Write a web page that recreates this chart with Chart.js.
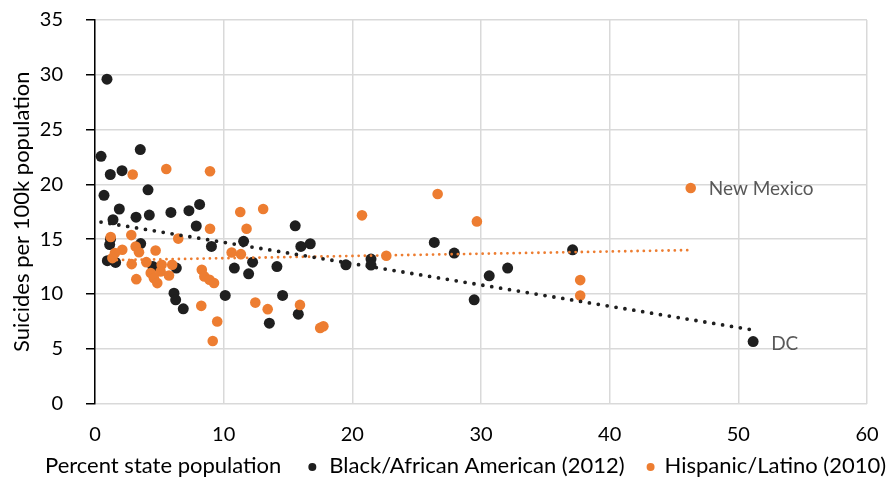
<!DOCTYPE html>
<html>
<head>
<meta charset="utf-8">
<script src="https://cdn.jsdelivr.net/npm/chart.js@4.4.1/dist/chart.umd.min.js"></script>
<style>
  html, body { margin: 0; padding: 0; background: #fff; }
</style>
</head>
<body>
<canvas id="graph" width="895" height="482"></canvas>
<script>
// Percent of state population vs suicide rate, one pair per state
const blackPct = [0.93, 0.47, 3.52, 1.19, 2.1, 0.7, 4.12, 1.89, 1.4, 3.19, 4.22, 5.9, 7.3, 8.13, 7.87,
  3.55, 9.05, 1.14, 1.2, 0.96, 1.6, 4.5, 6.32, 6.14, 6.27, 6.86, 15.56, 11.55, 16.0, 16.73, 12.25,
  10.83, 11.94, 14.14, 10.12, 14.58, 15.8, 13.55, 26.37, 27.92, 21.45, 21.45, 19.5, 30.64, 32.07,
  29.47, 37.12, 51.15];
const blackRate = [29.6, 22.56, 23.17, 20.9, 21.25, 19.0, 19.5, 17.75, 16.77, 17.0, 17.2, 17.44, 17.6, 18.17, 16.2,
  14.6, 14.33, 14.5, 15.0, 13.03, 12.87, 12.5, 12.36, 10.07, 9.46, 8.64, 16.22, 14.8, 14.33, 14.58, 12.9,
  12.36, 11.84, 12.5, 9.86, 9.86, 8.15, 7.33, 14.7, 13.73, 13.18, 12.63, 12.66, 11.65, 12.36,
  9.46, 14.03, 5.65];

const hispPct = [2.93, 5.54, 8.94, 8.94, 1.22, 2.82, 6.47, 3.16, 3.42, 4.71, 2.12, 1.55, 1.35, 2.85, 3.99,
  5.18, 6.0, 4.33, 5.1, 5.75, 4.58, 4.84, 3.21, 8.26, 9.5, 9.15, 8.3, 8.5, 8.9, 9.25, 11.29, 13.07,
  11.78, 10.62, 11.34, 12.46, 13.42, 15.93, 17.5, 17.75, 20.75, 26.63, 29.68, 22.64, 37.71, 37.71, 46.3];
const hispRate = [20.9, 21.4, 21.2, 15.95, 15.2, 15.37, 15.05, 14.33, 13.8, 13.97, 14.03, 13.73, 13.27, 12.72, 12.9,
  12.66, 12.66, 11.9, 12.05, 11.68, 11.44, 10.99, 11.35, 8.91, 7.48, 5.7, 12.2, 11.6, 11.3, 11.0, 17.48, 17.75,
  15.95, 13.78, 13.63, 9.21, 8.61, 9.0, 6.9, 7.05, 17.17, 19.12, 16.62, 13.48, 11.26, 9.86, 19.67];

// linear trend end points
const blackTrendX = [0.47, 51.1];
const blackTrendY = [16.56, 6.72];
const hispTrendX = [1.22, 46.3];
const hispTrendY = [13.08, 14.0];

const xTicks = [0, 10, 20, 30, 40, 50, 60];
const yTicks = [0, 5, 10, 15, 20, 25, 30, 35];

const BLACK = "#1f1f1f";
const ORANGE = "#ed7d31";
const FONT = "Lato";
const TICK_SIZE = 20;
const TITLE_SIZE = 22;

Chart.defaults.font.family = FONT;
Chart.defaults.font.size = TICK_SIZE;

const pairs = (xs, ys) => xs.map((v, i) => ({ x: v, y: ys[i] }));

// state names next to the two outliers, plus the bottom row (axis title + legend)
const annotations = {
  id: "annotations",
  afterDatasetsDraw(chart) {
    const { ctx, scales: { x, y } } = chart;
    ctx.save();
    ctx.font = "19px " + FONT;
    ctx.fillStyle = "#595959";
    ctx.textBaseline = "middle";
    const nm = hispPct.length - 1;
    ctx.fillText("New Mexico", x.getPixelForValue(hispPct[nm]) + 18, y.getPixelForValue(hispRate[nm]) + 1);
    const dc = blackPct.length - 1;
    ctx.fillText("DC", x.getPixelForValue(blackPct[dc]) + 18, y.getPixelForValue(blackRate[dc]) + 2);

    const rowY = 466;
    ctx.font = TITLE_SIZE + "px " + FONT;
    ctx.fillStyle = "#000";
    let cx = 45;
    ctx.fillText("Percent state population", cx, rowY);
    cx += ctx.measureText("Percent state population").width;

    const items = [[BLACK, "Black/African American (2012)"], [ORANGE, "Hispanic/Latino (2010)"]];
    items.forEach(([col, text], i) => {
      cx += i === 0 ? 31 : 26;
      ctx.fillStyle = col;
      ctx.beginPath();
      ctx.arc(cx, rowY + 1, 4, 0, Math.PI * 2);
      ctx.fill();
      cx += i === 0 ? 17 : 14;
      ctx.fillStyle = "#000";
      ctx.fillText(text, cx, rowY);
      cx += ctx.measureText(text).width;
    });
    ctx.restore();
  }
};

const data = {
  datasets: [
    {
      label: "Black trend",
      type: "line",
      data: pairs(blackTrendX, blackTrendY),
      borderColor: BLACK,
      borderWidth: 3.8,
      borderDash: [0, 9],
      borderCapStyle: "round",
      pointRadius: 0,
      fill: false,
      order: 0,
    },
    {
      label: "Hispanic trend",
      type: "line",
      data: pairs(hispTrendX, hispTrendY),
      borderColor: ORANGE,
      borderWidth: 2.8,
      borderDash: [0, 6.2],
      borderCapStyle: "round",
      pointRadius: 0,
      fill: false,
      order: 0,
    },
    {
      label: "Black/African American (2012)",
      data: pairs(blackPct, blackRate),
      backgroundColor: BLACK,
      pointRadius: 5.5,
      pointBorderWidth: 0,
      order: 2,
    },
    {
      label: "Hispanic/Latino (2010)",
      data: pairs(hispPct, hispRate),
      backgroundColor: ORANGE,
      pointRadius: 5.3,
      pointBorderWidth: 0,
      order: 1,
    },
  ],
};

const config = {
  type: "scatter",
  data: data,
  plugins: [annotations],
  options: {
    responsive: false,
    animation: false,
    events: [],
    layout: { padding: { top: 20, right: 28, bottom: 0, left: 0 } },
    plugins: {
      legend: { display: false },
      tooltip: { enabled: false },
    },
    scales: {
      x: {
        type: "linear",
        min: 0,
        max: 60,
        afterBuildTicks: (scale) => { scale.ticks = xTicks.map((v) => ({ value: v })); },
        afterFit: (scale) => {
          scale.height = 78.5;
          scale.paddingLeft = 0;
          scale.paddingRight = 0;
        },
        grid: { color: "#d9d9d9", lineWidth: 1.5, drawTicks: false },
        border: { display: false },
        ticks: { color: "#000", padding: 19 },
      },
      y: {
        type: "linear",
        min: 0,
        max: 35,
        afterBuildTicks: (scale) => { scale.ticks = yTicks.map((v) => ({ value: v })); },
        afterFit: (scale) => {
          scale.width = 95;
          scale.paddingTop = 0;
          scale.paddingBottom = 0;
        },
        grid: { color: "#d9d9d9", lineWidth: 1.5, tickColor: "#000", tickLength: 9 },
        border: { display: true, color: "#000", width: 1.5 },
        ticks: { color: "#000", padding: 23 },
        title: {
          display: true,
          text: "Suicides per 100k population",
          color: "#000",
          font: { size: TITLE_SIZE },
          padding: { top: 9, bottom: 0 },
        },
      },
    },
  },
};

new Chart(document.getElementById("graph"), config);
</script>
</body>
</html>
